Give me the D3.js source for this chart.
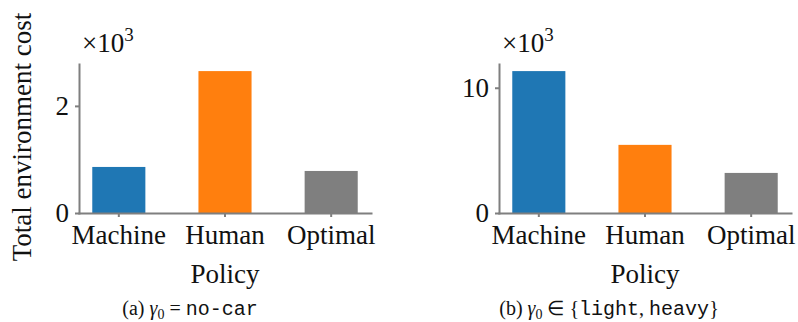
<!DOCTYPE html>
<html>
<head>
<meta charset="utf-8">
<script src="https://cdn.jsdelivr.net/npm/d3@7"></script>
</head>
<body style="margin:0;background:#fff">
<svg id="chart" width="798" height="322" style="display:block"></svg>
<script>
// Policies compared in both panels
const categories = ["Machine", "Human", "Optimal"];
// Total environment cost per policy, initial state no-car
const costNoCar = [860, 2650, 785];
// Total environment cost per policy, initial state light or heavy
const costLightHeavy = [11330, 5440, 3200];
const barColors = ["#1f77b4", "#ff7f0e", "#7f7f7f"];
// Y tick values (in thousands)
const ticksNoCar = [0, 2];
const ticksLightHeavy = [0, 10];

const serif = "'Liberation Serif', 'Times New Roman', serif";
const mono = "'Liberation Mono', 'DejaVu Sans Mono', monospace";
const ink = "#111";
const svg = d3.select("#chart");
const spine = "#7f7f7f";
const plotTop = 64, plotBottom = 213;

function panel(values, ticks, x0, x1) {
  const g = svg.append("g");
  const thousands = values.map(v => v / 1000);

  const x = d3.scaleBand()
    .domain(categories)
    .range([x0, x1])
    .paddingInner(0.5)
    .paddingOuter(0.125);

  const y = d3.scaleLinear()
    .domain([0, d3.max(thousands) * 1.05])
    .range([plotBottom, plotTop]);

  g.selectAll("rect.bar")
    .data(categories)
    .join("rect")
    .attr("class", "bar")
    .attr("x", d => x(d))
    .attr("width", x.bandwidth())
    .attr("y", (d, i) => y(thousands[i]))
    .attr("height", (d, i) => y(0) - y(thousands[i]))
    .attr("fill", (d, i) => barColors[i]);

  const yAxis = g.append("g")
    .attr("transform", `translate(${x0},0)`)
    .call(d3.axisLeft(y).tickValues(ticks).tickSize(4).tickSizeOuter(0).tickPadding(6).tickFormat(d3.format("d")));

  const xAxis = g.append("g")
    .attr("transform", `translate(0,${plotBottom})`)
    .call(d3.axisBottom(x).tickSize(4).tickSizeOuter(0).tickPadding(8));

  [yAxis, xAxis].forEach(a => {
    a.attr("font-family", serif).attr("font-size", 27);
    a.select(".domain").attr("stroke", spine).attr("stroke-width", 2).attr("stroke-linecap", "square");
    a.selectAll(".tick line").attr("stroke", spine).attr("stroke-width", 2);
    a.selectAll(".tick text").attr("fill", ink).attr("font-family", serif).attr("font-size", 27);
  });

  // Scale multiplier shown above the y axis
  const mult = g.append("text")
    .attr("x", x0 + 3)
    .attr("y", 52)
    .attr("fill", ink)
    .attr("font-family", serif)
    .attr("font-size", 27);
  mult.append("tspan").text("\u00d710");
  mult.append("tspan").attr("dy", -11).attr("font-size", 19).text("3");

  g.append("text")
    .attr("x", (x0 + x1) / 2)
    .attr("y", 283)
    .attr("text-anchor", "middle")
    .attr("fill", ink)
    .attr("font-family", serif)
    .attr("font-size", 27)
    .text("Policy");

  return g;
}

panel(costNoCar, ticksNoCar, 79, 371);
panel(costLightHeavy, ticksLightHeavy, 499, 791);

svg.append("text")
  .attr("transform", "translate(31,137) rotate(-90)")
  .attr("text-anchor", "middle")
  .attr("fill", ink)
  .attr("font-family", serif)
  .attr("font-size", 27)
  .text("Total environment cost");

// Sub-figure captions
function caption(cx, parts) {
  const t = svg.append("text")
    .attr("x", cx)
    .attr("y", 315)
    .attr("text-anchor", "middle")
    .attr("fill", ink)
    .attr("font-family", serif)
    .attr("font-size", 20);
  parts.forEach(p => {
    const s = t.append("tspan").text(p.text);
    if (p.mono) s.attr("font-family", mono);
    if (p.italic) s.attr("font-style", "italic");
    if (p.dy) s.attr("dy", p.dy);
    if (p.size) s.attr("font-size", p.size);
  });
}

caption(190, [
  { text: "(a) " },
  { text: "\u03b3", italic: true },
  { text: "0", dy: 4, size: 14 },
  { text: " = ", dy: -4 },
  { text: "no-car", mono: true }
]);

caption(609, [
  { text: "(b) " },
  { text: "\u03b3", italic: true },
  { text: "0", dy: 4, size: 14 },
  { text: " \u2208 {", dy: -4 },
  { text: "light", mono: true },
  { text: ", " },
  { text: "heavy", mono: true },
  { text: "}" }
]);
</script>
</body>
</html>
